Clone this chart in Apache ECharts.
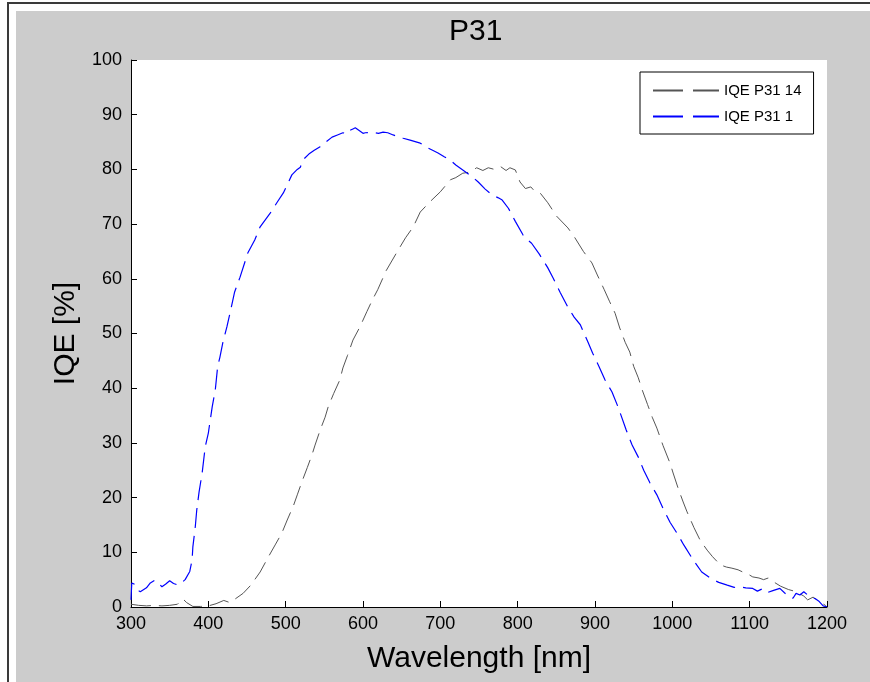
<!DOCTYPE html>
<html>
<head>
<meta charset="utf-8">
<title>P31</title>
<script src="https://cdn.jsdelivr.net/npm/echarts@6/dist/echarts.min.js"></script>
<style>
  html, body { margin: 0; padding: 0; background: #fff; }
  #frame {
    position: absolute; left: 7px; top: 2px; width: 863px; height: 680px;
    border-left: 2px solid #3a3a3a; border-top: 2px solid #3a3a3a;
  }
  #chart {
    position: absolute; left: 16px; top: 11px; width: 854px; height: 671px;
    background: #cccccc;
  }
</style>
</head>
<body>
<div id="frame"></div>
<div id="chart"></div>
<script>
// IQE P31 14 (gray)
const wl14 = [300, 310, 320, 330, 340, 350, 360, 367, 372, 380, 390, 400, 410, 420, 428, 435, 445, 455, 467, 477,
  487, 495, 502, 510, 515, 521, 528, 534, 538, 545, 551, 555, 562, 570, 574, 580, 587, 596, 605, 612,
  619, 630, 644, 655, 665, 674, 686, 700, 713, 720, 729, 738, 747, 755, 762, 770, 778, 785, 790, 797,
  803, 810, 817, 822, 829, 839, 850, 865, 874, 885, 896, 903, 912, 919, 926, 932, 939, 945, 950, 956,
  961, 968, 974, 980, 988, 997, 1001, 1008, 1014, 1019, 1028, 1036, 1045, 1052, 1062, 1070, 1077, 1085, 1091, 1098,
  1104, 1112, 1118, 1124, 1132, 1140, 1150, 1160, 1170, 1175, 1182, 1190, 1198, 1200]
const iqe14 = [0.5, 0.3, 0.2, 0.3, 0.2, 0.3, 0.5, 1.5, 0.8, 0.1, 0.1, 0.2, 0.6, 1.2, 0.8, 1.5, 2.5, 4, 6.4, 9,
  11.5, 13.5, 15.9, 18.5, 20.5, 22.9, 25.5, 27.8, 29.6, 32.5, 34.7, 36.6, 39, 41.5, 43.7, 46, 48.8, 51.2, 54, 56.1,
  58, 61.5, 64.9, 67.5, 69.5, 72.2, 74, 75.9, 78.1, 78.5, 79.3, 79.5, 80.3, 79.8, 80.3, 80, 80.5, 79.8, 80.3, 79.9,
  77.7, 76.5, 76.8, 76, 75.7, 73.9, 71.5, 69.3, 67.5, 65, 62.9, 60.7, 58, 55.8, 53.7, 51, 48.4, 46.6, 44, 41.9,
  39.7, 37, 34.7, 32.7, 29.5, 26.3, 24.5, 21.5, 19.2, 17.4, 14.5, 12.2, 10.4, 9.2, 7.7, 7.3, 7.1, 6.8, 6.4, 6,
  5.5, 5.3, 5.0, 5.3, 4.5, 3.8, 3.2, 2.8, 2, 1.3, 1.8, 1, 0.3, 0]

// IQE P31 1 (blue)
const wl1 = [300, 301, 304, 308, 312, 320, 325, 331, 336, 340, 345, 350, 355, 361, 366, 370, 376, 379, 380, 383,
  385, 388, 392, 396, 400, 405, 409, 412, 415, 419, 424, 428, 434, 441, 451, 460, 467, 480, 489, 497,
  503, 508, 515, 519, 522, 530, 537, 544, 552, 560, 567, 574, 580, 584, 587, 590, 600, 603, 612, 620,
  626, 632, 639, 645, 652, 662, 674, 684, 690, 697, 705, 713, 720, 729, 740, 749, 758, 767, 775, 780,
  788, 797, 807, 812, 818, 828, 839, 846, 855, 865, 873, 881, 891, 897, 905, 913, 922, 930, 940, 948,
  956, 963, 971, 980, 988, 997, 1006, 1015, 1027, 1038, 1050, 1060, 1071, 1080, 1088, 1095, 1104, 1110, 1116, 1122,
  1130, 1139, 1145, 1150, 1156, 1160, 1165, 1170, 1178, 1185, 1190, 1195, 1200]
const iqe1 = [1.3, 4.4, 4.2, 3.1, 2.8, 3.5, 4.4, 4.9, 4.3, 3.7, 4.2, 4.8, 4.3, 4.0, 4.5, 5.0, 6.5, 8.6, 11, 14.5,
  17.7, 21, 24.5, 29.3, 31.8, 36.6, 39.7, 43.9, 45.7, 48.5, 51.2, 53.7, 57.6, 60.3, 64.7, 67.1, 69.5, 72, 74, 75.7,
  77.5, 79, 80, 80.4, 81.7, 82.8, 83.5, 84.1, 85, 85.9, 86.3, 86.7, 86.5, 87.2, 87.4, 87.6, 86.6, 86.7, 86.8, 86.6,
  86.8, 86.7, 86.3, 86, 85.7, 85.3, 84.8, 83.9, 83.5, 83, 82.3, 81.7, 80.8, 79.9, 78.8, 77.7, 76.4, 75.3, 74.8, 74.4,
  72.9, 70.5, 68, 67.2, 66.5, 64.5, 62, 60.1, 57.5, 54.8, 53, 51.6, 48.4, 46.4, 44, 41.5, 39.3, 36.5, 32.5, 29.6,
  27.4, 25, 22.7, 20.5, 18, 15.5, 13.5, 11.3, 8.6, 6.4, 5.2, 4.5, 4.0, 3.6, 3.7, 3.5, 3.4, 2.9, 3.3, 2.6,
  3.0, 3.4, 2.6, 2.0, 1.6, 2.5, 2.2, 2.8, 1.8, 1.5, 1.0, 0.2, 0]

const xTicks = { min: 300, max: 1200, interval: 100 }
const yTicks = { min: 0, max: 100, interval: 10 }

const pairs = (xs, ys) => xs.map((x, i) => [x, ys[i]])

const chart = echarts.init(document.getElementById('chart'))
const font = 'Liberation Sans, Arial, sans-serif'

chart.setOption({
  animation: false,
  backgroundColor: '#cccccc',
  textStyle: { fontFamily: font },
  title: {
    text: 'P31',
    left: 428,
    top: 1,
    textStyle: { fontFamily: font, fontSize: 30, fontWeight: 'normal', color: '#000' }
  },
  grid: {
    left: 115,
    top: 49,
    right: 43,
    bottom: 75,
    show: true,
    backgroundColor: '#fff',
    borderWidth: 0
  },
  legend: {
    orient: 'vertical',
    left: 624,
    top: 61,
    padding: [11, 12, 10, 12],
    itemGap: 11,
    itemWidth: 66,
    itemHeight: 14,
    backgroundColor: '#fff',
    borderColor: '#000',
    borderWidth: 1,
    itemStyle: { color: 'transparent', borderWidth: 0 },
    lineStyle: { type: [30, 10] },
    textStyle: { fontFamily: font, fontSize: 15, color: '#000' },
    data: ['IQE P31 14', 'IQE P31 1']
  },
  xAxis: {
    type: 'value',
    min: xTicks.min,
    max: xTicks.max,
    interval: xTicks.interval,
    name: 'Wavelength [nm]',
    nameLocation: 'middle',
    nameGap: 37,
    nameTextStyle: { fontFamily: font, fontSize: 30, color: '#000' },
    axisLine: { lineStyle: { color: '#000', width: 1 } },
    axisTick: { inside: true, length: 6, lineStyle: { color: '#000' } },
    axisLabel: { margin: 8, fontFamily: font, fontSize: 18, color: '#000', formatter: v => String(v) },
    splitLine: { show: false }
  },
  yAxis: {
    type: 'value',
    min: yTicks.min,
    max: yTicks.max,
    interval: yTicks.interval,
    name: 'IQE [%]',
    nameLocation: 'middle',
    nameGap: 46,
    nameTextStyle: { fontFamily: font, fontSize: 30, color: '#000' },
    axisLine: { show: true, lineStyle: { color: '#000', width: 1 } },
    axisTick: { show: true, inside: true, length: 6, lineStyle: { color: '#000' } },
    axisLabel: { margin: 9, fontFamily: font, fontSize: 18, color: '#000' },
    splitLine: { show: false }
  },
  series: [
    {
      name: 'IQE P31 14',
      type: 'line',
      symbol: 'none',
      data: pairs(wl14, iqe14),
      itemStyle: { color: '#555555' },
      lineStyle: { color: '#555555', width: 1, type: [20, 8] }
    },
    {
      name: 'IQE P31 1',
      type: 'line',
      symbol: 'none',
      data: pairs(wl1, iqe1),
      itemStyle: { color: '#0000ff' },
      lineStyle: { color: '#0000ff', width: 1.2, type: [20, 8] }
    }
  ]
})
</script>
</body>
</html>
